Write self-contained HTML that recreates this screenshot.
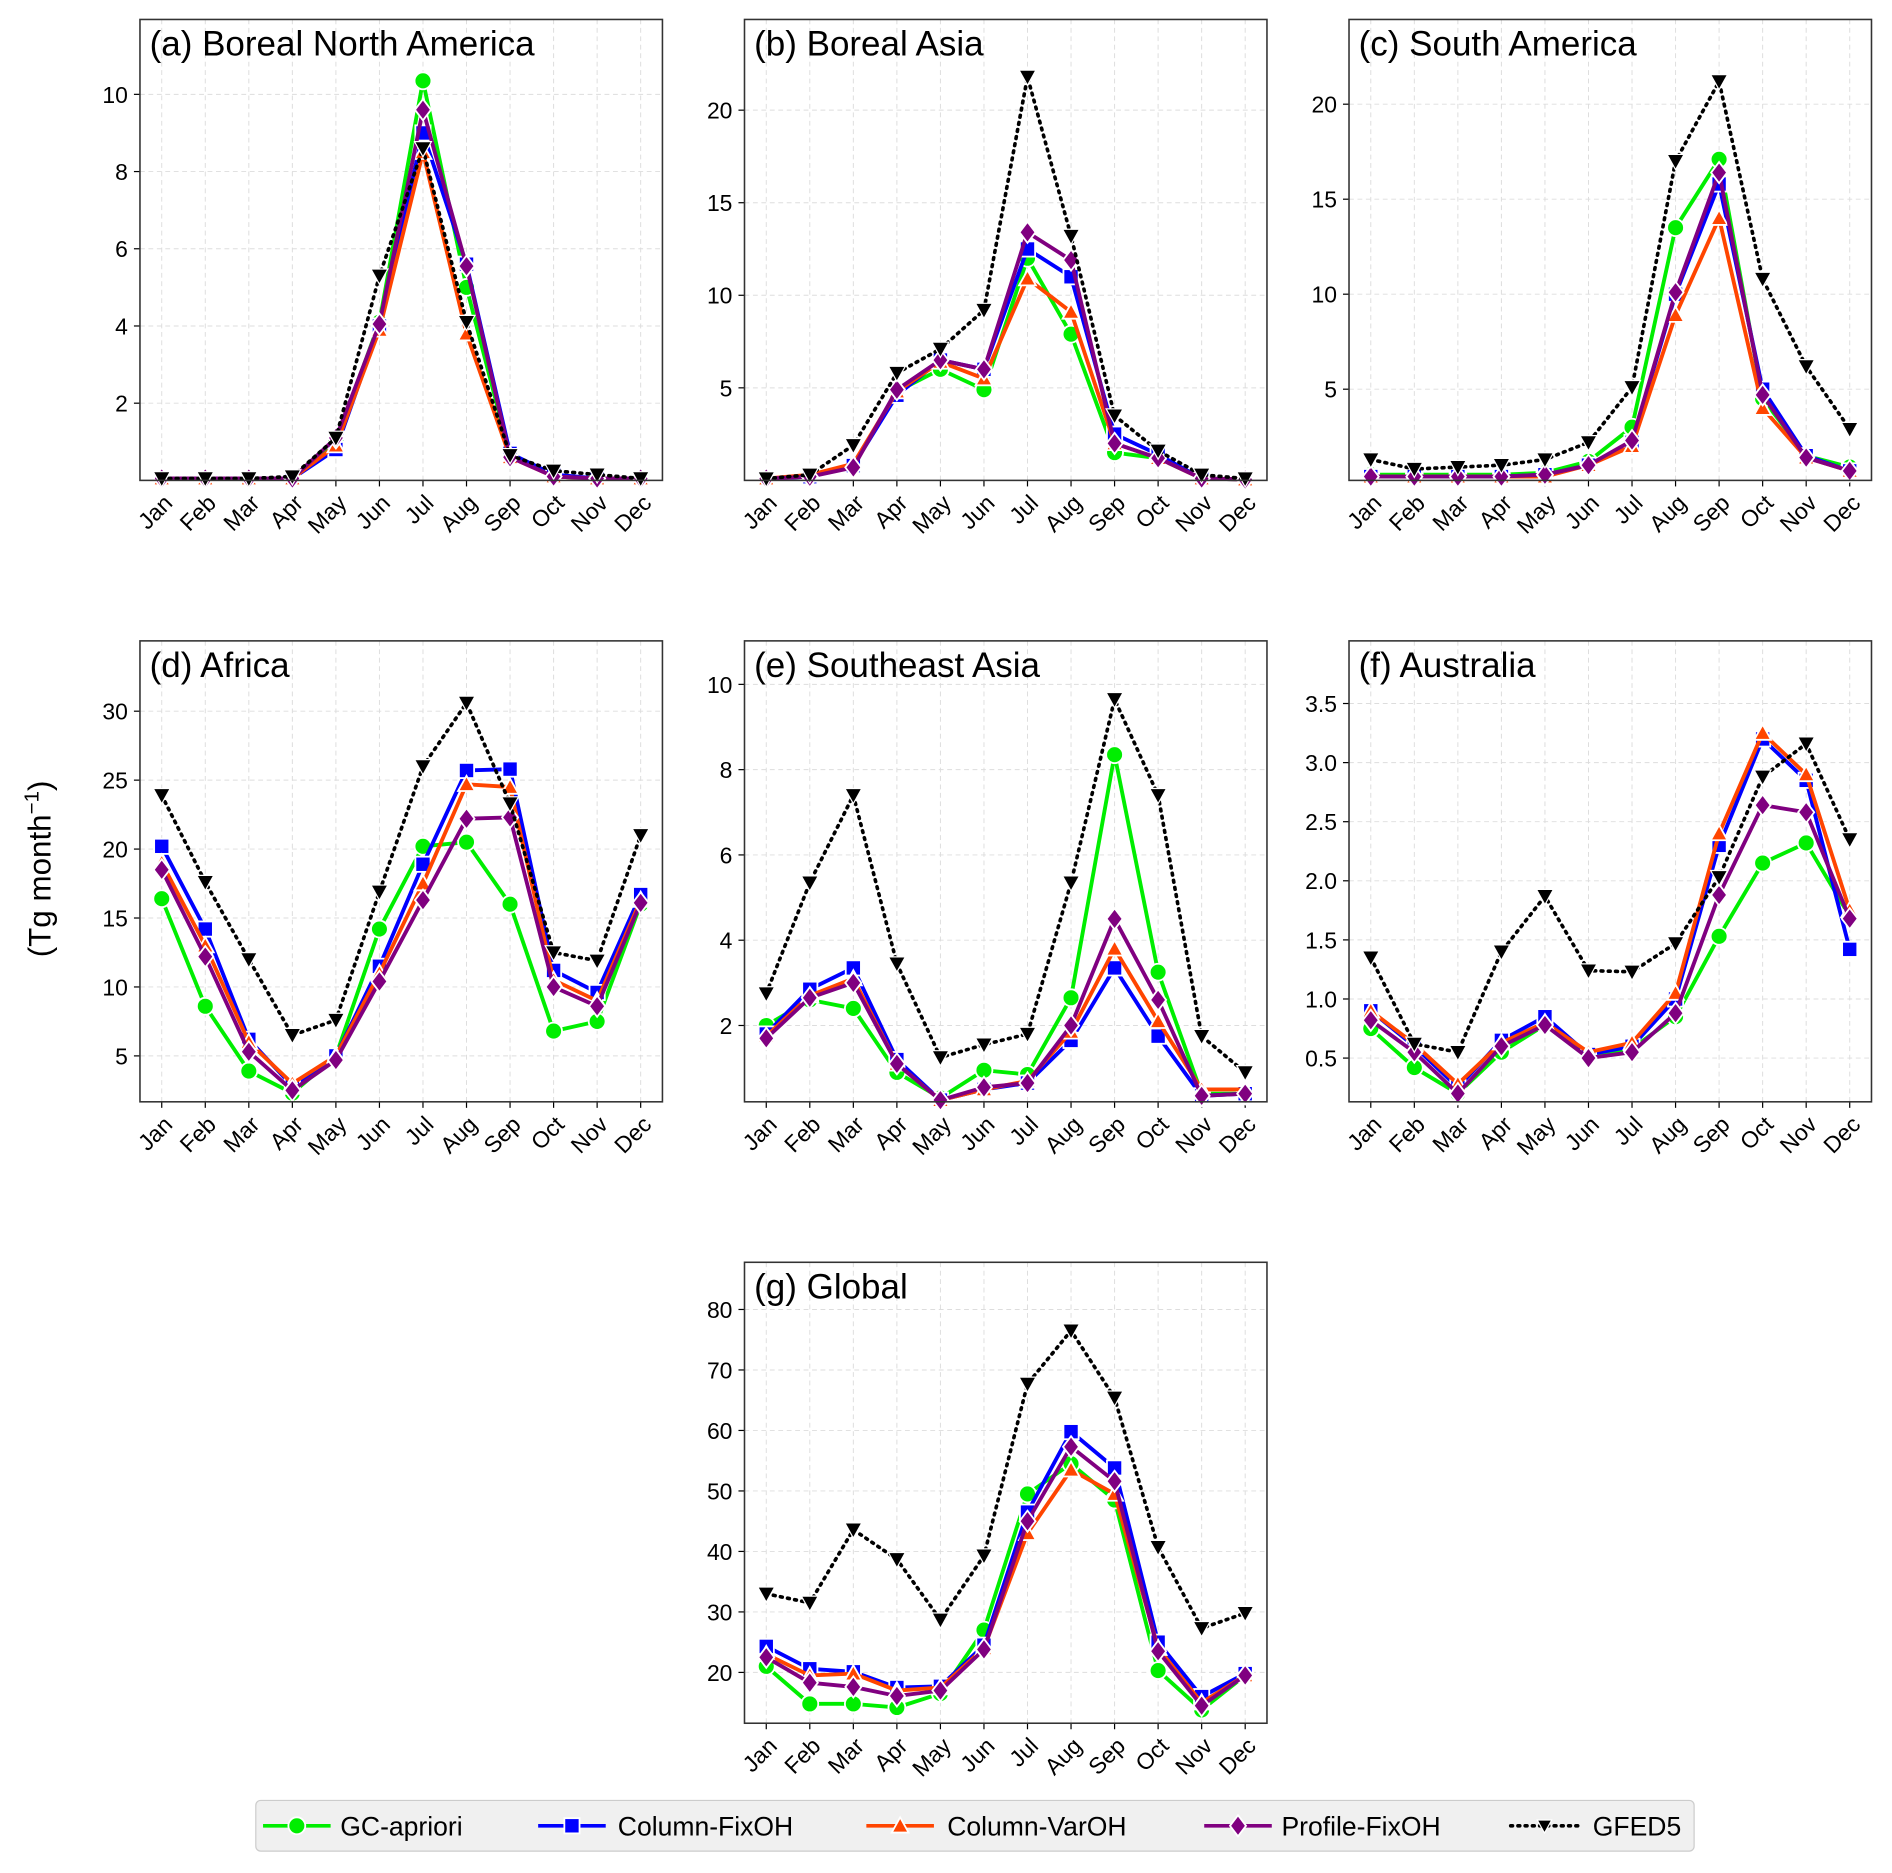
<!DOCTYPE html>
<html><head><meta charset="utf-8">
<style>
html,body{margin:0;padding:0;background:#fff;}
svg{display:block;font-family:"Liberation Sans","DejaVu Sans",sans-serif;}
</style></head>
<body>
<svg id="fig" width="1892" height="1873" viewBox="0 0 1568 1552" xmlns="http://www.w3.org/2000/svg">
<text x="0" y="0" transform="translate(42,720) rotate(-90)" text-anchor="middle" font-size="26">(Tg month<tspan dy="-10" font-size="17">−1</tspan><tspan dy="10">)</tspan></text>
<g id="legend"></g>
</svg>
<script>
const months = ["Jan","Feb","Mar","Apr","May","Jun","Jul","Aug","Sep","Oct","Nov","Dec"];
const seriesNames = ["GC-apriori","Column-FixOH","Column-VarOH","Profile-FixOH","GFED5"];
const panelTitles = ["(a) Boreal North America","(b) Boreal Asia","(c) South America","(d) Africa","(e) Southeast Asia","(f)  Australia","(g) Global"];
const yTicksA=[2,4,6,8,10], yTicksB=[5,10,15,20], yTicksC=[5,10,15,20], yTicksD=[5,10,15,20,25,30], yTicksE=[2,4,6,8,10], yTicksF=[0.5,1.0,1.5,2.0,2.5,3.0,3.5], yTicksG=[20,30,40,50,60,70,80];
const yLims=[[0,11.94],[0,24.9],[0.2,24.46],[1.67,35.1],[0.21,11.02],[0.13,4.03],[11.6,87.8]];

const aGC=[0.05,0.05,0.05,0.05,1.0,4.1,10.35,5.0,0.65,0.1,0.05,0.05];
const aCol=[0.05,0.05,0.05,0.05,0.8,4.0,9.0,5.6,0.7,0.15,0.05,0.05];
const aVar=[0.05,0.05,0.05,0.05,0.9,3.9,8.5,3.8,0.6,0.1,0.05,0.05];
const aProf=[0.05,0.05,0.05,0.05,1.1,4.05,9.6,5.55,0.6,0.1,0.05,0.05];
const aGFED=[0.05,0.05,0.05,0.1,1.1,5.3,8.6,4.1,0.65,0.25,0.15,0.05];

const bGC=[0.1,0.2,0.8,4.8,6.0,4.9,12.0,7.9,1.5,1.2,0.1,0.05];
const bCol=[0.1,0.2,0.8,4.6,6.5,6.0,12.5,11.0,2.5,1.4,0.1,0.05];
const bVar=[0.1,0.3,0.9,4.8,6.4,5.5,10.9,9.1,2.0,1.2,0.1,0.05];
const bProf=[0.1,0.2,0.7,4.9,6.5,6.0,13.4,11.9,2.0,1.2,0.1,0.05];
const bGFED=[0.1,0.3,1.9,5.8,7.1,9.2,21.8,13.2,3.5,1.6,0.3,0.1];

const cGC=[0.5,0.5,0.5,0.5,0.6,1.2,3.0,13.5,17.1,4.5,1.5,0.9];
const cCol=[0.4,0.4,0.4,0.4,0.5,1.0,2.2,10.0,15.8,5.0,1.5,0.7];
const cVar=[0.4,0.4,0.4,0.4,0.4,1.0,2.0,8.9,14.0,4.0,1.4,0.7];
const cProf=[0.4,0.4,0.4,0.4,0.5,1.0,2.3,10.1,16.4,4.7,1.4,0.7];
const cGFED=[1.3,0.8,0.9,1.0,1.3,2.2,5.1,17.0,21.2,10.8,6.2,2.9];

const dGC=[16.4,8.6,3.9,2.3,5.0,14.2,20.2,20.5,16.0,6.8,7.5,16.0];
const dCol=[20.2,14.2,6.2,2.8,5.0,11.5,18.9,25.7,25.8,11.2,9.6,16.7];
const dVar=[19.0,13.0,6.0,3.0,5.0,11.0,17.5,24.7,24.5,10.5,9.0,16.3];
const dProf=[18.5,12.2,5.3,2.5,4.7,10.4,16.3,22.2,22.3,10.0,8.6,16.1];
const dGFED=[23.9,17.6,12.0,6.5,7.6,16.9,26.0,30.6,23.3,12.5,11.9,21.0];

const eGC=[2.0,2.6,2.4,0.9,0.3,0.95,0.85,2.65,8.35,3.25,0.4,0.4];
const eCol=[1.8,2.85,3.35,1.2,0.25,0.5,0.65,1.65,3.35,1.75,0.35,0.4];
const eVar=[1.75,2.7,3.1,1.1,0.25,0.5,0.7,1.85,3.8,2.1,0.5,0.5];
const eProf=[1.7,2.65,3.0,1.1,0.25,0.55,0.65,2.0,4.5,2.6,0.35,0.4];
const eGFED=[2.75,5.35,7.4,3.45,1.25,1.55,1.8,5.35,9.65,7.4,1.75,0.9];

const fGC=[0.75,0.42,0.2,0.55,0.78,0.52,0.58,0.85,1.53,2.15,2.32,1.7];
const fCol=[0.9,0.6,0.25,0.65,0.85,0.53,0.6,1.0,2.3,3.2,2.85,1.42];
const fVar=[0.9,0.62,0.28,0.63,0.8,0.55,0.63,1.05,2.4,3.25,2.9,1.75];
const fProf=[0.82,0.55,0.2,0.6,0.78,0.5,0.55,0.88,1.88,2.64,2.58,1.68];
const fGFED=[1.35,0.62,0.55,1.4,1.87,1.24,1.23,1.47,2.03,2.88,3.16,2.35];

const gGC=[21,14.8,14.8,14.2,16.5,27,49.5,54.5,48.5,20.3,13.8,19.5];
const gCol=[24.3,20.6,20.1,17.5,17.7,24.5,46.5,59.8,53.8,25,16,19.8];
const gVar=[23,19.5,19.8,17,17.5,24,43,53.5,49.5,24,15,19.5];
const gProf=[22.5,18.3,17.6,16.1,17,23.8,45,57.3,51.6,23.5,14.5,19.5];
const gGFED=[33,31.5,43.6,38.7,28.7,39.3,67.7,76.5,65.4,40.7,27.3,29.8];

const panelData=[[aGC,aCol,aVar,aProf,aGFED],[bGC,bCol,bVar,bProf,bGFED],[cGC,cCol,cVar,cProf,cGFED],[dGC,dCol,dVar,dProf,dGFED],[eGC,eCol,eVar,eProf,eGFED],[fGC,fCol,fVar,fProf,fGFED],[gGC,gCol,gVar,gProf,gGFED]];
const panelTicks=[yTicksA,yTicksB,yTicksC,yTicksD,yTicksE,yTicksF,yTicksG];
const boxes=[[116,16],[617,16],[1118,16],[116,531],[617,531],[1118,531],[617,1046]];
const W=433,H=382;
const colors=["#00ee00","#0000ff","#ff4500","#800080","#000000"];
const markers=["circle","square","triangle","diamond","tridown"];
const NS="http://www.w3.org/2000/svg";
const svg=document.getElementById('fig');
function mk(tag,attrs,parent){const e=document.createElementNS(NS,tag);for(const k in attrs)e.setAttribute(k,attrs[k]);(parent||svg).appendChild(e);return e;}
function marker(g,type,x,y,c,s){
  let e;
  if(type==="circle")e=mk('circle',{cx:x,cy:y,r:s},g);
  else if(type==="square")e=mk('rect',{x:x-s*0.9,y:y-s*0.9,width:s*1.8,height:s*1.8},g);
  else if(type==="triangle")e=mk('polygon',{points:`${x},${y-s} ${x-s},${y+s*0.8} ${x+s},${y+s*0.8}`},g);
  else if(type==="diamond")e=mk('polygon',{points:`${x},${y-s*1.25} ${x+s*0.95},${y} ${x},${y+s*1.25} ${x-s*0.95},${y}`},g);
  else e=mk('polygon',{points:`${x-s},${y-s*0.8} ${x+s},${y-s*0.8} ${x},${y+s}`},g);
  e.setAttribute('fill',c);e.setAttribute('stroke','#fff');e.setAttribute('stroke-width',type==="tridown"?1:1.5);
  return e;
}
panelData.forEach((series,p)=>{
  const [x0,y0]=boxes[p];const [lo,hi]=yLims[p];
  const X=i=>x0+(i+0.5)*W/12;
  const Y=v=>y0+H-(v-lo)/(hi-lo)*H;
  const g=mk('g',{});
  
  
  mk('rect',{x:x0,y:y0,width:W,height:H,fill:'#fff'},g);
  months.forEach((m,i)=>{
    mk('line',{x1:X(i),x2:X(i),y1:y0,y2:y0+H,stroke:'#ddd','stroke-dasharray':'4,3','stroke-width':0.8},g);
    mk('line',{x1:X(i),x2:X(i),y1:y0+H,y2:y0+H+5,stroke:'#000','stroke-width':1},g);
    const ax=X(i)+10, ay=y0+H+20;
    const t=mk('text',{x:ax,y:ay,'font-size':19,'text-anchor':'end',transform:`rotate(-45 ${ax} ${ay})`},g);
    
    
    t.textContent=m;
  });
  panelTicks[p].forEach(v=>{
    mk('line',{x1:x0,x2:x0+W,y1:Y(v),y2:Y(v),stroke:'#ddd','stroke-dasharray':'4,3','stroke-width':0.8},g);
    mk('line',{x1:x0-5,x2:x0,y1:Y(v),y2:Y(v),stroke:'#000','stroke-width':1},g);
    const t=mk('text',{x:x0-10,y:Y(v)+7,'font-size':19,'text-anchor':'end'},g);
    
    
    t.textContent=(p===5?v.toFixed(1):String(v));
  });
  series.forEach((vals,s)=>{
    const sg=mk('g',{},g);
    
    
    const pts=vals.map((v,i)=>X(i)+','+Y(v)).join(' ');
    const pl=mk('polyline',{points:pts,fill:'none',stroke:colors[s],'stroke-width':s===4?3:3.2,'stroke-linejoin':'round'},sg);
    if(s===4){pl.setAttribute('stroke-dasharray','1.5,4.5');pl.setAttribute('stroke-linecap','round');}
    vals.forEach((v,i)=>{const m=marker(sg,markers[s],X(i),Y(v),colors[s],7);
      
      });
  });
  mk('rect',{x:x0,y:y0,width:W,height:H,fill:'none',stroke:'#333','stroke-width':1.3},g);
  const tt=mk('text',{x:x0+8,y:y0+30,'font-size':29},g);
  
  
  tt.textContent=panelTitles[p];
});
const lg=document.getElementById('legend');
mk('rect',{x:212,y:1492,width:1192,height:42,rx:4,fill:'#f0f0f0',stroke:'#ccc','stroke-width':1},lg);
const lx=[218,446,718,998,1252];
const tx=[262,512,785,1060,1320];
seriesNames.forEach((n,s)=>{
  const x=lx[s],y=1513;
  const e=mk('g',{},lg);
  
  
  const l=mk('line',{x1:x,x2:x+56,y1:y,y2:y,stroke:colors[s],'stroke-width':3},e);
  if(s===4){l.setAttribute('stroke-dasharray','1.5,4.5');l.setAttribute('stroke-linecap','round');}
  marker(e,markers[s],x+28,y,colors[s],s===4?6:7);
  const t=mk('text',{x:Math.max(tx[s],x+64),y:y+8,'font-size':22},e);
  t.textContent=n;
});
</script>
</body></html>
